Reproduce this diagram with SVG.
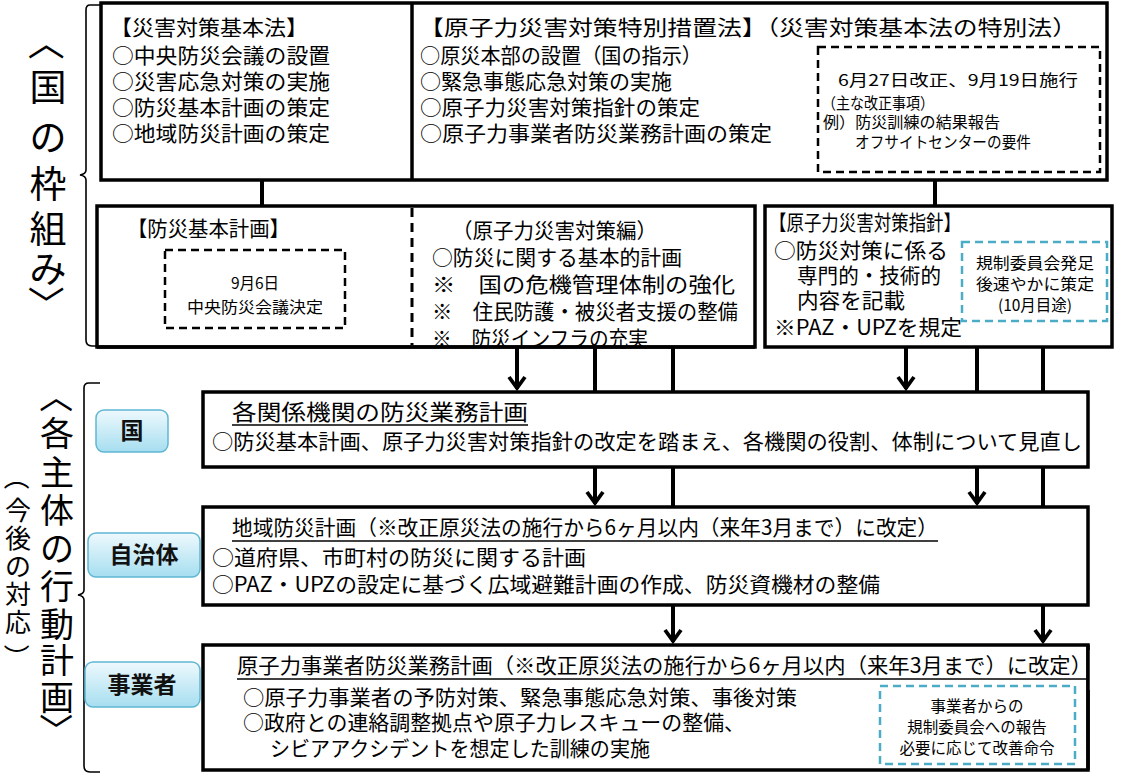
<svg xmlns="http://www.w3.org/2000/svg" width="1122" height="777" viewBox="0 0 1122 777">
<defs>
<style>
text{font-family:"Noto Sans CJK JP","Liberation Sans",sans-serif;fill:#000}
.t21{font-size:21px}
.t22{font-size:22px}
.t16{font-size:15.5px}
.box{fill:#fff;stroke:#000;stroke-width:3.5}
.dash{fill:none;stroke:#000;stroke-width:2.5;stroke-dasharray:8 5}
.cdash{fill:none;stroke:#4BACC6;stroke-width:2.5;stroke-dasharray:8 5}
.conn{stroke:#000;stroke-width:4;fill:none}
.ul{stroke:#000;stroke-width:1.3}
.brk{fill:none;stroke:#000;stroke-width:1.6}
.lbl{fill:url(#lg);stroke:#5FB7D3;stroke-width:1.5}
.lt{font-size:23px;font-weight:700;fill:#111}
.vt{font-size:37px}
.vm{font-size:34px}
.vs{font-size:26px}
</style>
<linearGradient id="lg" x1="0" y1="0" x2="0" y2="1">
<stop offset="0" stop-color="#EEF9FD"/>
<stop offset="1" stop-color="#A6DEF0"/>
</linearGradient>
<marker id="arr" viewBox="-15 -10 17 20" refX="0" refY="0" markerWidth="17" markerHeight="20" markerUnits="userSpaceOnUse" orient="auto">
<path d="M-12,-8 L-1,0 L-12,8" fill="none" stroke="#000" stroke-width="3.8"/>
</marker>
</defs>

<g id="brackets">
<path class="brk" d="M100,5 H90 Q86,5 86,10 V170 Q86,174 80,175 Q86,176 86,180 V340 Q86,346 92,346 H98"/>
<path class="brk" d="M100,383 H89 Q84,383 84,388 V590 Q84,594 78,595 Q84,596 84,600 V766 Q84,772 90,772 H100"/>
</g>

<g id="side-labels">
<text class="vt" x="48" y="42" text-anchor="middle" dominant-baseline="central" transform="rotate(90 48 42)">〈</text>
<text class="vt" text-anchor="middle"><tspan x="48" y="101">国</tspan><tspan x="48" y="151">の</tspan><tspan x="48" y="198">枠</tspan><tspan x="48" y="243">組</tspan><tspan x="48" y="283">み</tspan></text>
<text class="vt" x="48" y="304" text-anchor="middle" dominant-baseline="central" transform="rotate(90 48 304)">〉</text>

<text class="vm" x="57" y="396" text-anchor="middle" dominant-baseline="central" transform="rotate(90 57 396)">〈</text>
<text class="vm" text-anchor="middle"><tspan x="57" y="446">各</tspan><tspan x="57" y="485">主</tspan><tspan x="57" y="523">体</tspan><tspan x="57" y="561">の</tspan><tspan x="57" y="599">行</tspan><tspan x="57" y="637">動</tspan><tspan x="57" y="673">計</tspan><tspan x="57" y="710">画</tspan></text>
<text class="vm" x="57" y="730" text-anchor="middle" dominant-baseline="central" transform="rotate(90 57 730)">〉</text>

<text class="vs" x="18" y="477" text-anchor="middle" dominant-baseline="central" transform="rotate(90 18 477)">（</text>
<text class="vs" text-anchor="middle"><tspan x="18" y="520">今</tspan><tspan x="18" y="548">後</tspan><tspan x="18" y="576">の</tspan><tspan x="18" y="604">対</tspan><tspan x="18" y="632">応</tspan></text>
<text class="vs" x="18" y="657" text-anchor="middle" dominant-baseline="central" transform="rotate(90 18 657)">）</text>
</g>

<g id="connectors">
<line class="conn" x1="262" y1="180" x2="262" y2="206"/>
<line class="conn" x1="935" y1="180" x2="935" y2="206"/>
<line class="conn" x1="517" y1="347" x2="517" y2="389" marker-end="url(#arr)"/>
<line class="conn" x1="595" y1="347" x2="595" y2="504" marker-end="url(#arr)"/>
<line class="conn" x1="673" y1="347" x2="673" y2="642" marker-end="url(#arr)"/>
<line class="conn" x1="906" y1="347" x2="906" y2="389" marker-end="url(#arr)"/>
<line class="conn" x1="977" y1="347" x2="977" y2="504" marker-end="url(#arr)"/>
<line class="conn" x1="1043" y1="347" x2="1043" y2="642" marker-end="url(#arr)"/>
</g>

<g id="node-top">
<rect class="box" x="101" y="3" width="1006" height="177"/>
<line x1="412" y1="3" x2="412" y2="180" stroke="#000" stroke-width="3.5"/>
<text class="t21" x="110" y="35" textLength="198" lengthAdjust="spacingAndGlyphs">【災害対策基本法】</text>
<text class="t21" x="112" y="63" textLength="218" lengthAdjust="spacingAndGlyphs">○中央防災会議の設置</text>
<text class="t21" x="112" y="89" textLength="218" lengthAdjust="spacingAndGlyphs">○災害応急対策の実施</text>
<text class="t21" x="112" y="115" textLength="218" lengthAdjust="spacingAndGlyphs">○防災基本計画の策定</text>
<text class="t21" x="112" y="141" textLength="218" lengthAdjust="spacingAndGlyphs">○地域防災計画の策定</text>
<text class="t21" x="419" y="35" textLength="658" lengthAdjust="spacingAndGlyphs">【原子力災害対策特別措置法】（災害対策基本法の特別法）</text>
<text class="t21" x="420" y="63" textLength="282" lengthAdjust="spacingAndGlyphs">○原災本部の設置（国の指示）</text>
<text class="t21" x="420" y="89" textLength="252" lengthAdjust="spacingAndGlyphs">○緊急事態応急対策の実施</text>
<text class="t21" x="420" y="115" textLength="280" lengthAdjust="spacingAndGlyphs">○原子力災害対策指針の策定</text>
<text class="t21" x="420" y="141" textLength="352" lengthAdjust="spacingAndGlyphs">○原子力事業者防災業務計画の策定</text>
<rect class="dash" x="818" y="47" width="282" height="125"/>
<text class="t16" x="838" y="86" textLength="240" lengthAdjust="spacingAndGlyphs">6月27日改正、9月19日施行</text>
<text class="t16" x="822" y="109" textLength="112" lengthAdjust="spacingAndGlyphs">（主な改正事項）</text>
<text class="t16" x="823" y="128" textLength="177" lengthAdjust="spacingAndGlyphs">例）防災訓練の結果報告</text>
<text class="t16" x="855" y="148" textLength="176" lengthAdjust="spacingAndGlyphs">オフサイトセンターの要件</text>
</g>

<g id="node-bousai-kihon">
<rect class="box" x="97" y="206" width="658" height="141"/>
<line x1="412" y1="208" x2="412" y2="345" stroke="#000" stroke-width="3" stroke-dasharray="9 6"/>
<text class="t21" x="127" y="236" textLength="163" lengthAdjust="spacingAndGlyphs">【防災基本計画】</text>
<rect class="dash" x="165" y="250" width="180" height="78"/>
<text class="t16" x="255" y="289" text-anchor="middle">9月6日</text>
<text class="t16" x="255" y="313" text-anchor="middle" textLength="136" lengthAdjust="spacingAndGlyphs">中央防災会議決定</text>
<text class="t21" x="452" y="238" textLength="205" lengthAdjust="spacingAndGlyphs">（原子力災害対策編）</text>
<text class="t21" x="432" y="265" textLength="250" lengthAdjust="spacingAndGlyphs">○防災に関する基本的計画</text>
<text class="t21" x="432" y="292" textLength="303" lengthAdjust="spacingAndGlyphs">※　国の危機管理体制の強化</text>
<text class="t21" x="432" y="319" textLength="306" lengthAdjust="spacingAndGlyphs">※　住民防護・被災者支援の整備</text>
<text class="t21" x="432" y="346" textLength="216" lengthAdjust="spacingAndGlyphs">※　防災インフラの充実</text>
<line x1="97" y1="347" x2="755" y2="347" stroke="#000" stroke-width="3.5"/>
</g>

<g id="node-shishin">
<rect class="box" x="765" y="206" width="347" height="141"/>
<text class="t21" x="769" y="230" textLength="192" lengthAdjust="spacingAndGlyphs">【原子力災害対策指針】</text>
<text class="t21" x="774" y="258" textLength="174" lengthAdjust="spacingAndGlyphs">○防災対策に係る</text>
<text class="t21" x="797" y="283" textLength="144" lengthAdjust="spacingAndGlyphs">専門的・技術的</text>
<text class="t21" x="797" y="308" textLength="108" lengthAdjust="spacingAndGlyphs">内容を記載</text>
<text class="t21" x="774" y="335" textLength="188" lengthAdjust="spacingAndGlyphs">※PAZ・UPZを規定</text>
<rect class="cdash" x="962" y="242" width="145" height="79"/>
<text class="t16" x="1035" y="269" text-anchor="middle" textLength="118" lengthAdjust="spacingAndGlyphs">規制委員会発足</text>
<text class="t16" x="1035" y="290" text-anchor="middle" textLength="118" lengthAdjust="spacingAndGlyphs">後速やかに策定</text>
<text class="t16" x="1035" y="311" text-anchor="middle">(10月目途)</text>
</g>

<g id="node-kuni">
<rect class="lbl" x="96" y="410" width="72" height="42" rx="8"/>
<text class="lt" x="132" y="439" text-anchor="middle">国</text>
<rect class="box" x="203" y="392" width="885" height="75"/>
<text class="t22" x="232" y="420" textLength="296" lengthAdjust="spacingAndGlyphs">各関係機関の防災業務計画</text>
<line class="ul" x1="232" y1="425" x2="528" y2="425"/>
<text class="t21" x="212" y="449" textLength="870" lengthAdjust="spacingAndGlyphs">○防災基本計画、原子力災害対策指針の改定を踏まえ、各機関の役割、体制について見直し</text>
</g>

<g id="node-jichitai">
<rect class="lbl" x="88" y="533" width="112" height="44" rx="8"/>
<text class="lt" x="144" y="563" text-anchor="middle">自治体</text>
<rect class="box" x="203" y="507" width="885" height="98"/>
<text class="t21" x="232" y="535" textLength="706" lengthAdjust="spacingAndGlyphs">地域防災計画（※改正原災法の施行から6ヶ月以内（来年3月まで）に改定）</text>
<line class="ul" x1="232" y1="541" x2="938" y2="541"/>
<text class="t21" x="212" y="565" textLength="374" lengthAdjust="spacingAndGlyphs">○道府県、市町村の防災に関する計画</text>
<text class="t21" x="212" y="592" textLength="668" lengthAdjust="spacingAndGlyphs">○PAZ・UPZの設定に基づく広域避難計画の作成、防災資機材の整備</text>
</g>

<g id="node-jigyosha">
<rect class="lbl" x="85" y="662" width="115" height="45" rx="8"/>
<text class="lt" x="142" y="693" text-anchor="middle">事業者</text>
<rect class="box" x="203" y="645" width="885" height="125"/>
<text class="t21" x="237" y="673" textLength="855" lengthAdjust="spacingAndGlyphs">原子力事業者防災業務計画（※改正原災法の施行から6ヶ月以内（来年3月まで）に改定）</text>
<line class="ul" x1="237" y1="679" x2="1088" y2="679"/>
<rect fill="#fff" x="1089" y="650" width="10" height="40"/>
<text class="t21" x="243" y="705" textLength="554" lengthAdjust="spacingAndGlyphs">○原子力事業者の予防対策、緊急事態応急対策、事後対策</text>
<text class="t21" x="243" y="730" textLength="502" lengthAdjust="spacingAndGlyphs">○政府との連絡調整拠点や原子力レスキューの整備、</text>
<text class="t21" x="270" y="756" textLength="380" lengthAdjust="spacingAndGlyphs">シビアアクシデントを想定した訓練の実施</text>
<rect class="cdash" x="880" y="686" width="195" height="78"/>
<text class="t16" x="977" y="712" text-anchor="middle">事業者からの</text>
<text class="t16" x="977" y="733" text-anchor="middle">規制委員会への報告</text>
<text class="t16" x="977" y="754" text-anchor="middle">必要に応じて改善命令</text>
<line x1="1088" y1="645" x2="1088" y2="770" stroke="#000" stroke-width="3.5"/>
</g>
</svg>
